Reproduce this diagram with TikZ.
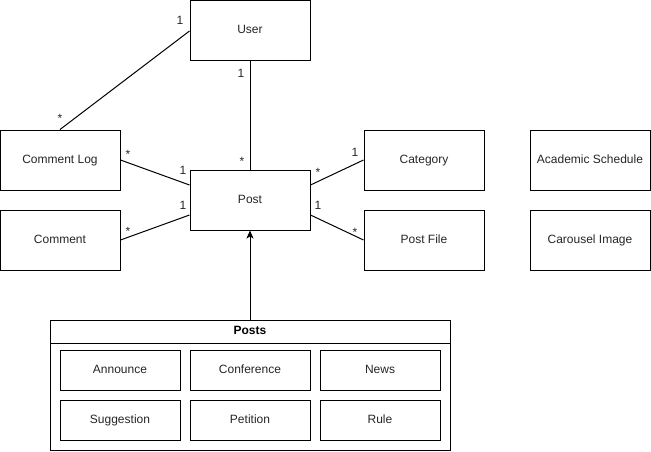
\documentclass[tikz,border=0pt]{standalone}
\usepackage{fontspec}
\setmainfont{Liberation Sans}
\usetikzlibrary{arrows.meta}
\begin{document}
\begin{tikzpicture}[x=1pt,y=-1pt,
  every node/.style={font=\fontsize{12}{14}\selectfont, text=black!85},
  entity/.style={draw=black, line width=1pt, fill=white, inner sep=0pt, minimum width=120pt, minimum height=60pt, text height=8.6pt, text depth=2.6pt},
  sub/.style={draw=black, line width=1pt, fill=white, inner sep=0pt, minimum width=120pt, minimum height=40pt, text height=8.6pt, text depth=2.6pt},
  lbl/.style={inner sep=0pt},
  conn/.style={draw=black, line width=1pt}]
\useasboundingbox (0,0) rectangle (651,451);
% entities
\node[entity] (user) at (250,30) {User};
\node[entity] (clog) at (60,160) {Comment Log};
\node[entity] (post) at (250,200) {Post};
\node[entity] (cat) at (424,160) {Category};
\node[entity] (acad) at (590,160) {Academic Schedule};
\node[entity] (comm) at (60,240) {Comment};
\node[entity] (pfile) at (424,240) {Post File};
\node[entity] (car) at (590,240) {Carousel Image};
% container
\node[draw=black, line width=1pt, inner sep=0pt, minimum width=400pt, minimum height=130pt] (posts) at (250,385) {};
\node[font=\fontsize{12}{14}\selectfont\bfseries, text=black, inner sep=0pt, text height=8.6pt, text depth=2.6pt] (poststitle) at (250,331.5) {Posts};
\draw[line width=1pt] (50,343) -- (450,343);
\node[sub] (ann) at (120,370) {Announce};
\node[sub] (conf) at (250,370) {Conference};
\node[sub] (news) at (380,370) {News};
\node[sub] (sugg) at (120,420) {Suggestion};
\node[sub] (pet) at (250,420) {Petition};
\node[sub] (rule) at (380,420) {Rule};
% connectors
\draw[conn] ([yshift=-1pt]user.west) -- (clog.north);
\draw[conn] (user.south) -- (post.north);
\draw[conn] (clog.east) -- ([yshift=15pt]post.west);
\draw[conn] (comm.east) -- ([yshift=-15pt]post.west);
\draw[conn] ([yshift=15pt]post.east) -- (cat.west);
\draw[conn] ([yshift=-15pt]post.east) -- (pfile.west);
\draw[conn, -{Stealth[length=8pt,width=7pt,inset=2pt]}] (posts.north) -- (post.south);
% multiplicities
\node[lbl] (l1) at (180,20) {1};
\node[lbl] (l2) at (60,118) {*};
\node[lbl] (l3) at (241,73) {1};
\node[lbl] (l4) at (242,161) {*};
\node[lbl] (l5) at (128,154) {*};
\node[lbl] (l6) at (183,170) {1};
\node[lbl] (l7) at (128,231) {*};
\node[lbl] (l8) at (183,205) {1};
\node[lbl] (l9) at (318,172) {*};
\node[lbl] (l10) at (355,152) {1};
\node[lbl] (l11) at (318,205) {1};
\node[lbl] (l12) at (355,232) {*};
\end{tikzpicture}
\end{document}
